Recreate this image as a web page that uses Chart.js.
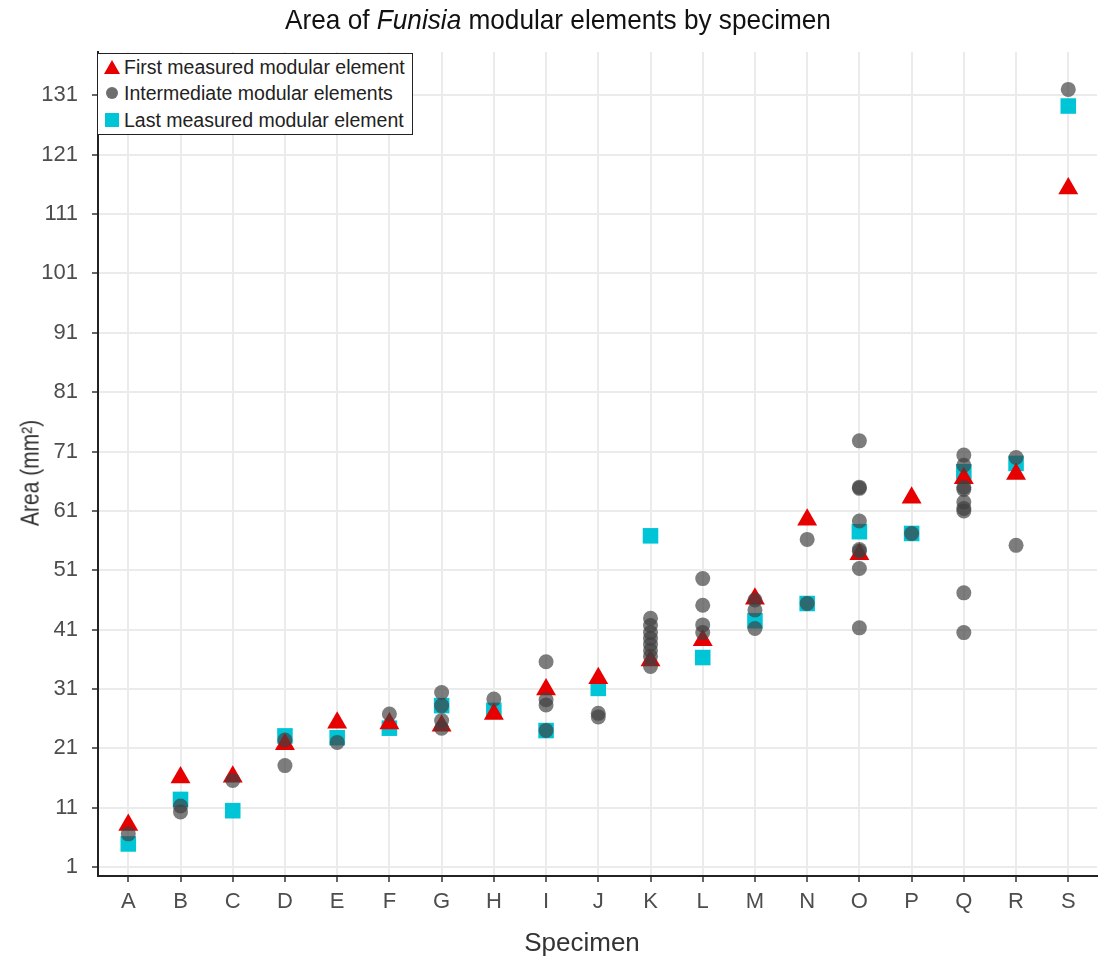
<!DOCTYPE html>
<html>
<head>
<meta charset="utf-8">
<script src="https://cdn.jsdelivr.net/npm/chart.js@4/dist/chart.umd.min.js"></script>
<style>
  body { margin: 0; background: #fff; font-family: "Liberation Sans", Arial, sans-serif; }
  #wrap { position: relative; width: 1098px; height: 961px; }
  #title { position: absolute; top: 4px; left: 9px; width: 1098px; text-align: center; font-size: 26.2px; color: #111; transform: scaleY(1.08); }
  #xtitle { position: absolute; left: 582px; top: 942px; transform: translate(-50%, -50%); font-size: 26px; color: #333; white-space: nowrap; }
  #ytitle { position: absolute; left: 30px; top: 473px; transform: translate(-50%, -50%) rotate(-90deg) scaleY(1.2); font-size: 21px; color: #333; white-space: nowrap; }
  #legend { position: absolute; left: 97px; top: 53px; width: 314px; height: 80px; border: 1px solid #222; background: #fff; font-size: 19.5px; color: #222; z-index: 2; }
  .row { position: absolute; left: 0; height: 26px; line-height: 26px; }
  .row span.t { position: absolute; left: 26px; white-space: nowrap; }
  .mk { position: absolute; }
  .tri { left: 6px; top: 6px; width: 0; height: 0; border-left: 8px solid transparent; border-right: 8px solid transparent; border-bottom: 14px solid #e60000; }
  .dot { left: 8px; top: 7px; width: 12px; height: 12px; border-radius: 50%; background: #6e6e6e; }
  .sq { left: 7px; top: 6px; width: 14px; height: 14px; background: #00c5d6; }
</style>
</head>
<body>
<div id="wrap">
  <div id="title">Area of <i>Funisia</i> modular elements by specimen</div>
  <div id="ytitle">Area (mm²)</div>
  <div id="xtitle">Specimen</div>
  <div id="legend">
    <div class="row" style="top:0px"><div class="mk tri"></div><span class="t">First measured modular element</span></div>
    <div class="row" style="top:26px"><div class="mk dot"></div><span class="t">Intermediate modular elements</span></div>
    <div class="row" style="top:53px"><div class="mk sq"></div><span class="t">Last measured modular element</span></div>
  </div>
  <canvas id="chart" width="1098" height="961"></canvas>
</div>
<script>
// specimens along the x axis
const specimens = ['A','B','C','D','E','F','G','H','I','J','K','L','M','N','O','P','Q','R','S'];
const yTicks = [1, 11, 21, 31, 41, 51, 61, 71, 81, 91, 101, 111, 121, 131];

// area (mm2) of first measured element per specimen
const firstArea = [8.1, 16.1, 16.2, 21.7, 25.3, 25.2, 24.8, 26.8, 30.9, 32.8, 35.8, 39.2, 46.2, 59.5, 53.7, 63.2, 66.5, 67.2, 115.3];
// area of last measured element per specimen
const lastArea = [4.9, 12.4, 10.5, 23.1, 22.8, 24.4, 28.2, 27.4, 24.0, 31.1, 56.8, 36.3, 42.5, 45.4, 57.5, 57.2, 67.6, 69.0, 129.2];
// areas of intermediate elements, one list per specimen
const intermediateArea = [
  [6.6],
  [11.3, 10.3],
  [15.6],
  [22.4, 18.1],
  [22.0],
  [26.8],
  [30.4, 28.2, 25.7, 24.4],
  [29.3],
  [35.6, 29.2, 28.3, 24.0],
  [26.9, 26.3],
  [42.9, 41.7, 40.5, 39.5, 38.5, 37.5, 36.5, 34.8],
  [49.6, 45.1, 41.8, 40.5],
  [46.0, 44.3, 41.2],
  [56.2, 45.4],
  [72.8, 65.0, 64.8, 59.3, 54.5, 54.2, 51.3, 41.3],
  [57.2],
  [70.4, 68.7, 65.0, 64.6, 62.5, 61.4, 61.0, 47.2, 40.5],
  [70.0, 55.2],
  [132.0]
];

const firstPts = firstArea.map((v, i) => ({ x: i, y: v }));
const lastPts = lastArea.map((v, i) => ({ x: i, y: v }));
const midPts = [];
intermediateArea.forEach((list, i) => list.forEach(v => midPts.push({ x: i, y: v })));

const axisFont = { family: '"Liberation Sans", Arial, sans-serif', size: 22 };

new Chart(document.getElementById('chart'), {
  type: 'scatter',
  data: {
    datasets: [
      { label: 'First measured modular element', data: firstPts, pointStyle: 'triangle', pointRadius: 11.5, backgroundColor: '#e60000', borderWidth: 0, order: 1 },
      { label: 'Intermediate modular elements', data: midPts, pointStyle: 'circle', pointRadius: 7.5, backgroundColor: 'rgba(64,64,64,0.68)', borderWidth: 0, order: 0 },
      { label: 'Last measured modular element', data: lastPts, pointStyle: 'rect', pointRadius: 11, backgroundColor: '#00c5d6', borderWidth: 0, order: 2 }
    ]
  },
  options: {
    responsive: false,
    animation: false,
    layout: { autoPadding: false, padding: { top: 52, right: 1, left: 0, bottom: 0 } },
    plugins: { legend: { display: false }, tooltip: { enabled: false } },
    scales: {
      x: {
        type: 'linear',
        min: -0.58,
        max: 18.55,
        afterBuildTicks: (s) => { s.ticks = specimens.map((c, i) => ({ value: i })); },
        afterFit: (s) => { s.height = 85; s.paddingLeft = 0; s.paddingRight = 0; },
        ticks: { autoSkip: false, maxRotation: 0, padding: 7, color: '#4d4d4d', font: axisFont,
                 callback: (v) => specimens[v] },
        grid: { color: '#ebebeb', lineWidth: 2, tickColor: '#333', tickLength: 6, tickWidth: 1.5 },
        border: { display: true, color: '#222', width: 2 }
      },
      y: {
        min: -0.5,
        max: 138.3,
        afterBuildTicks: (s) => { s.ticks = yTicks.map(v => ({ value: v })); },
        afterFit: (s) => { s.width = 98; s.paddingTop = 0; s.paddingBottom = 0; },
        ticks: { padding: 14, color: '#4d4d4d', font: axisFont },
        grid: { color: '#ebebeb', lineWidth: 2, tickColor: '#333', tickLength: 6, tickWidth: 1.5 },
        border: { display: true, color: '#222', width: 2 }
      }
    }
  }
});
</script>
</body>
</html>
